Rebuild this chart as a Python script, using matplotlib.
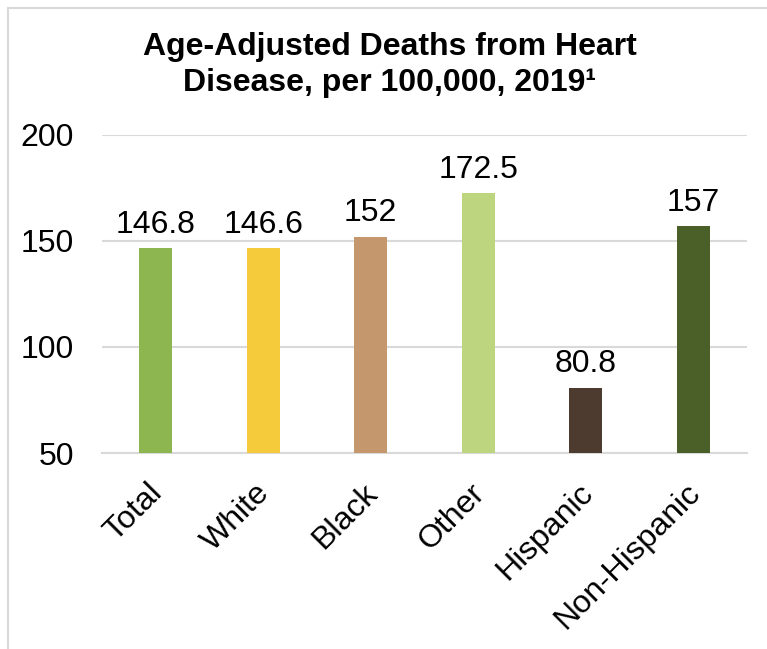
import numpy as np
import matplotlib.pyplot as plt
import matplotlib.transforms as mtrans
from matplotlib.patches import Rectangle

plt.rcParams['font.family'] = ['Liberation Sans', 'DejaVu Sans']

groups = ['Total', 'White', 'Black', 'Other', 'Hispanic', 'Non-Hispanic']
deaths = [146.8, 146.6, 152, 172.5, 80.8, 157]
labels = ['146.8', '146.6', '152', '172.5', '80.8', '157']
colors = ['#8db651', '#f5cb3c', '#c4976c', '#bdd57f', '#4e3b2f', '#4a6028']

fig = plt.figure(figsize=(7.67, 6.49), dpi=100)
ax = fig.add_axes([0.133, 0.302, 0.841, 0.490])

x = np.arange(len(groups))
ax.bar(x, deaths, width=0.31, color=colors, zorder=3)

for xi, v, t in zip(x, deaths, labels):
    ax.annotate(t, (xi, v), xytext=(0, 11), textcoords='offset points',
                ha='center', va='baseline', fontsize=23)

ax.set_ylim(50, 200)
ax.set_xlim(-0.5, len(groups) - 0.5)
ax.set_yticks([50, 100, 150, 200])
ax.tick_params(axis='y', labelsize=23, length=0, pad=20)
ax.set_xticks(x)
ax.set_xticklabels(groups, rotation=45, ha='right', rotation_mode='anchor', fontsize=23)
ax.tick_params(axis='x', length=0, pad=18)
shift = mtrans.ScaledTranslation(-6 / 72, 0, fig.dpi_scale_trans)
for lab in ax.get_xticklabels():
    lab.set_transform(lab.get_transform() + shift)
ax.grid(axis='y', color='#d9d9d9', linewidth=1.5, zorder=0)
for s in ['top', 'right', 'left']:
    ax.spines[s].set_visible(False)
ax.spines['bottom'].set_color('#d9d9d9')
ax.spines['bottom'].set_linewidth(1.5)

fig.text(0.508, 0.950, 'Age-Adjusted Deaths from Heart\nDisease, per 100,000, 2019\u00b9',
         ha='center', va='top', fontsize=23, fontweight='bold', linespacing=1.25)

# outer chart frame
fig.patches.append(Rectangle((8 / 767, -0.05), 1.1, 0.05 + 641 / 649, transform=fig.transFigure,
                             fill=False, edgecolor='#d9d9d9', linewidth=1.5))

plt.savefig('out.png', dpi=100)
